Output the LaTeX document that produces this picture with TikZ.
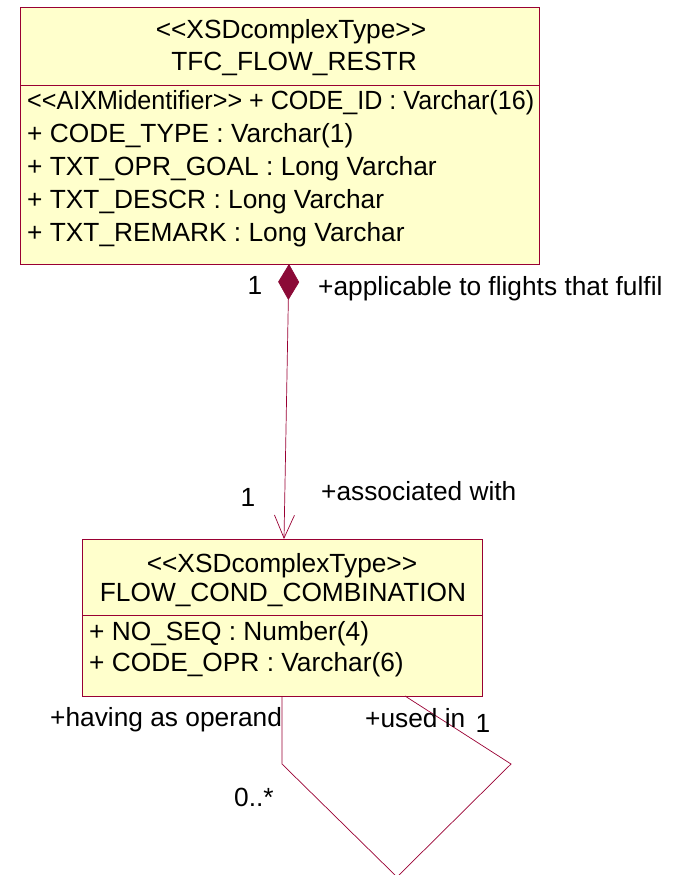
\documentclass[tikz,border=0pt]{standalone}
\usepackage{graphicx}
\usepackage{fontspec}
\setmainfont{Liberation Sans}
\usetikzlibrary{arrows.meta}
\definecolor{umlborder}{RGB}{153,0,51}
\definecolor{umlfill}{RGB}{255,255,204}
\definecolor{umldiamond}{RGB}{139,10,55}
\newcommand\dlt{<\kern0pt<}
\newcommand\dgt{>\kern0pt>}
\begin{document}
\begin{tikzpicture}[x=1pt,y=-1pt,
  classbox/.style={draw=umlborder,fill=umlfill,line width=0.8pt,rectangle,inner sep=0pt},
  sepline/.style={draw=umlborder,line width=0.6pt},
  txt/.style={inner sep=0pt,font=\fontsize{26.3}{30}\selectfont},
  conn/.style={draw=umlborder,line width=0.7pt}]
\useasboundingbox (0,0) rectangle (679,875);
% class 1
\node[classbox,minimum width=519pt,minimum height=257pt] (tfc) at (279.5,135.5) {};
\draw[sepline] (20,85) -- (539,85);
\node[txt] (tfcst) at (291,32) {\dlt XSDcomplexType\dgt};
\node[txt] (tfcnm) at (294,64) {TFC\_FLOW\_RESTR};
\node[txt,anchor=west] (a1) at (27,103) {\scalebox{0.955}[1]{\dlt AIXMidentifier\dgt{} + CODE\_ID : Varchar(16)}};
\node[txt,anchor=west] (a2) at (27,136) {+ CODE\_TYPE : Varchar(1)};
\node[txt,anchor=west] (a3) at (27,169) {+ TXT\_OPR\_GOAL : Long Varchar};
\node[txt,anchor=west] (a4) at (27,202) {+ TXT\_DESCR : Long Varchar};
\node[txt,anchor=west] (a5) at (27,235) {+ TXT\_REMARK : Long Varchar};
% class 2
\node[classbox,minimum width=400pt,minimum height=157pt] (fcc) at (282,617.5) {};
\draw[sepline] (82,615) -- (482,615);
\node[txt] (fccst) at (282,566) {\dlt XSDcomplexType\dgt};
\node[txt] (fccnm) at (283,595) {FLOW\_COND\_COMBINATION};
\node[txt,anchor=west] (b1) at (89,634) {+ NO\_SEQ : Number(4)};
\node[txt,anchor=west] (b2) at (89,665) {+ CODE\_OPR : Varchar(6)};
% composition
\coordinate (dtop) at (289,264);
\coordinate (atip) at (284,539);
\draw[conn,{Diamond[length=36pt,width=21pt,fill=umldiamond,color=umldiamond]}-{Straight Barb[length=23pt,width=20pt,line width=0.7pt]}] (dtop) -- (atip);
\node[txt,anchor=west] (l1) at (318,289) {+applicable to flights that fulfil};
\node[txt] (m1) at (255,285) {1};
\node[txt] (m2) at (248,497) {1};
\node[txt,anchor=west] (l2) at (321,491) {+associated with};
% self association
\coordinate (s1) at (282,764);
\coordinate (s2) at (397,877);
\coordinate (s3) at (511,764);
\coordinate (sEnd) at (405,696);
\draw[conn] (fcc.south) -- (s1) -- (s2) -- (s3) -- (sEnd);
\node[txt,anchor=west] (l3) at (50,720) {+having as operand};
\node[txt,anchor=west] (l4) at (365,718) {+used in};
\node[txt] (m3) at (483,723) {1};
\node[txt,anchor=west] (m4) at (234,797) {0..*};
\end{tikzpicture}
\end{document}
